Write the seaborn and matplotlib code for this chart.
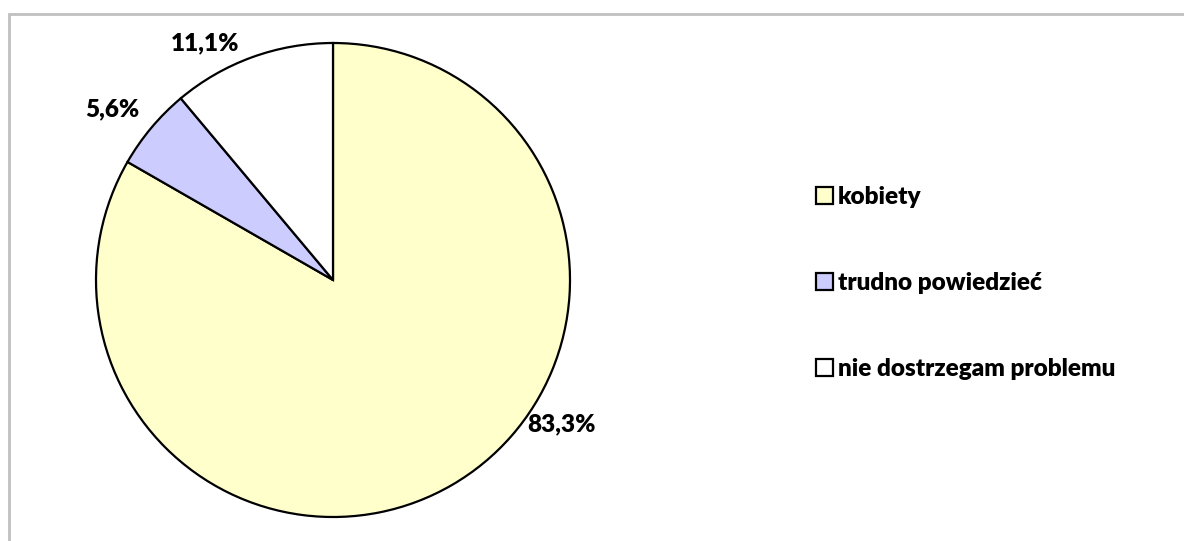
import matplotlib
matplotlib.use("Agg")
import matplotlib.pyplot as plt
import seaborn as sns
from matplotlib.patches import Rectangle

# data
categories = ["kobiety", "trudno powiedzieć", "nie dostrzegam problemu"]
shares = [83.3, 5.6, 11.1]
labels = ["83,3%", "5,6%", "11,1%"]
colors = ["#FFFFCC", "#CCCCFF", "#FFFFFF"]

# label placement (in pie-radius units)
label_pos = [(0.966, -0.61), (-0.93, 0.72), (-0.54, 1.0)]

sns.set_theme(style="white")
plt.rcParams["font.family"] = ["Lato", "DejaVu Sans"]
plt.rcParams["text.color"] = "black"

fig = plt.figure(figsize=(11.84, 5.41), dpi=100)

# grey frame (only top and left visible in the reference)
fig.patches.append(Rectangle((9 / 1184, -0.1), 1.2, 1 - 14 / 541 + 0.1,
                             transform=fig.transFigure, fill=False,
                             edgecolor="#C0C0C0", linewidth=2))

cx, cy, r = 333, 280, 237
ax = fig.add_axes([(cx - r) / 1184, (541 - cy - r) / 541, 2 * r / 1184, 2 * r / 541])

wedges, _ = ax.pie(shares, colors=colors, startangle=90, counterclock=False,
                   wedgeprops=dict(edgecolor="black", linewidth=1.6))
ax.set_xlim(-1, 1)
ax.set_ylim(-1, 1)
ax.set_aspect("equal")
ax.axis("off")

fs = 17.5
for txt, (x, y) in zip(labels, label_pos):
    ax.text(x, y, txt, ha="center", va="center", fontsize=fs,
            fontweight="heavy", color="black", clip_on=False)

fig.legend(wedges, categories, loc="center left",
           bbox_to_anchor=(816 / 1184, 1 - 283 / 541),
           frameon=False, prop=dict(size=fs, weight="heavy"),
           labelcolor="black",
           labelspacing=2.65, handlelength=0.7, handleheight=0.7,
           handletextpad=0.2, borderpad=0, borderaxespad=0)

fig.savefig("out.png", dpi=100)
